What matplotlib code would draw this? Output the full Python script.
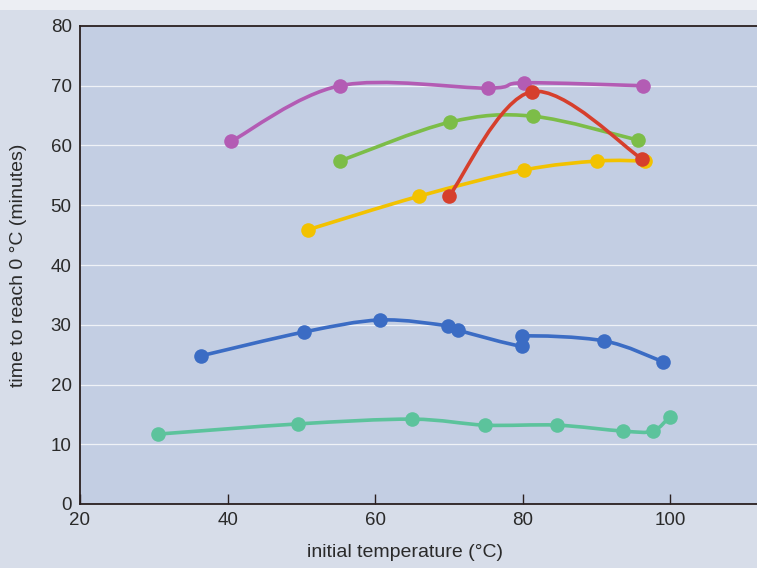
import numpy as np
import matplotlib
matplotlib.use("Agg")
import matplotlib.pyplot as plt
from matplotlib.path import Path
from matplotlib.patches import PathPatch

plt.rcParams['font.family'] = ['Liberation Sans', 'DejaVu Sans']

# ---- data ----
purple_x = [40.5, 55.2, 75.3, 80.2, 96.3]
purple_y = [60.7, 70.0, 69.6, 70.5, 70.0]

green_x = [55.2, 70.1, 81.4, 95.6]
green_y = [57.4, 63.9, 64.9, 60.9]

red_x = [70.0, 81.2, 96.2]
red_y = [51.5, 69.0, 57.7]

yellow_x = [50.9, 65.9, 80.2, 90.1, 96.6]
yellow_y = [45.9, 51.5, 55.9, 57.4, 57.4]

blue_x = [36.4, 50.4, 60.7, 69.9, 71.2, 79.9, 79.9, 91.0, 99.0]
blue_y = [24.8, 28.8, 30.8, 29.8, 29.1, 26.4, 28.1, 27.3, 23.8]

teal_x = [30.6, 49.5, 65.0, 74.9, 84.6, 93.6, 97.6, 99.9]
teal_y = [11.7, 13.4, 14.2, 13.2, 13.2, 12.2, 12.2, 14.6]

series = [
    (teal_x, teal_y, '#5cc39c'),
    (blue_x, blue_y, '#3b6cc4'),
    (yellow_x, yellow_y, '#f2c200'),
    (green_x, green_y, '#7cbd48'),
    (purple_x, purple_y, '#b35cb4'),
    (red_x, red_y, '#d63f2c'),
]

x_ticks = [20, 40, 60, 80, 100]
y_ticks = [0, 10, 20, 30, 40, 50, 60, 70, 80]

fig_bg = '#d7dde9'
ax_bg = '#c3cee3'

fig = plt.figure(figsize=(7.57, 5.68), dpi=100, facecolor=fig_bg)
# lighter strip at the very top of the page
fig.patches.append(plt.Rectangle((0, 1 - 10/568), 1, 10/568, transform=fig.transFigure,
                                 facecolor='#eceef3', edgecolor='none', zorder=0))
ax = fig.add_axes([80/757, 64/568, 1 - 80/757, (504-26)/568])
ax.set_facecolor(ax_bg)
ax.set_xlim(20, 20 + 677/7.38)
ax.set_ylim(0, 80)


def smooth_path(xs, ys, ax):
    # Catmull-Rom as cubic Bezier path in display space, via the axes transform
    pts = ax.transData.transform(np.column_stack([xs, ys]))
    verts = [pts[0]]
    codes = [Path.MOVETO]
    n = len(pts)
    for i in range(n - 1):
        p0 = pts[i - 1] if i > 0 else pts[i]
        p1 = pts[i]
        p2 = pts[i + 1]
        p3 = pts[i + 2] if i + 2 < n else pts[i + 1]
        c1 = p1 + (p2 - p0) / 6.0
        c2 = p2 - (p3 - p1) / 6.0
        verts += [c1, c2, p2]
        codes += [Path.CURVE4] * 3
    return Path(verts, codes)


for xs, ys, c in series:
    p = smooth_path(xs, ys, ax)
    ax.add_patch(PathPatch(p, transform=None, facecolor='none', edgecolor=c,
                           lw=2.6, zorder=3, capstyle='round', joinstyle='round'))
    ax.plot(xs, ys, 'o', color=c, markersize=10.5, markeredgewidth=0, zorder=4)

# grid
for yv in y_ticks[1:-1]:
    ax.axhline(yv, color='white', lw=0.9, alpha=0.75, zorder=1)

ax.set_xticks(x_ticks)
ax.set_yticks(y_ticks)
ax.tick_params(axis='x', direction='in', length=7, width=1.0, color='#2a2020',
               labelsize=13.5, pad=6, labelcolor='#2a2a2a')
ax.tick_params(axis='y', length=0, labelsize=13.5, pad=6, labelcolor='#2a2a2a')
ax.tick_params(axis='x', which='both', top=False)

for s in ['left', 'bottom', 'top']:
    ax.spines[s].set_color('#2a2020')
    ax.spines[s].set_linewidth(1.3)
ax.spines['right'].set_visible(False)

ax.set_xlabel('initial temperature (°C)', fontsize=14, color='#2a2a2a')
ax.set_ylabel('time to reach 0 °C (minutes)', fontsize=14, color='#2a2a2a')
ax.xaxis.set_label_coords((405-80)/677, -(544-504)/478)
ax.yaxis.set_label_coords(-(80-27)/677, (504-265)/478)

fig.savefig('out.png', dpi=100, facecolor=fig_bg)
